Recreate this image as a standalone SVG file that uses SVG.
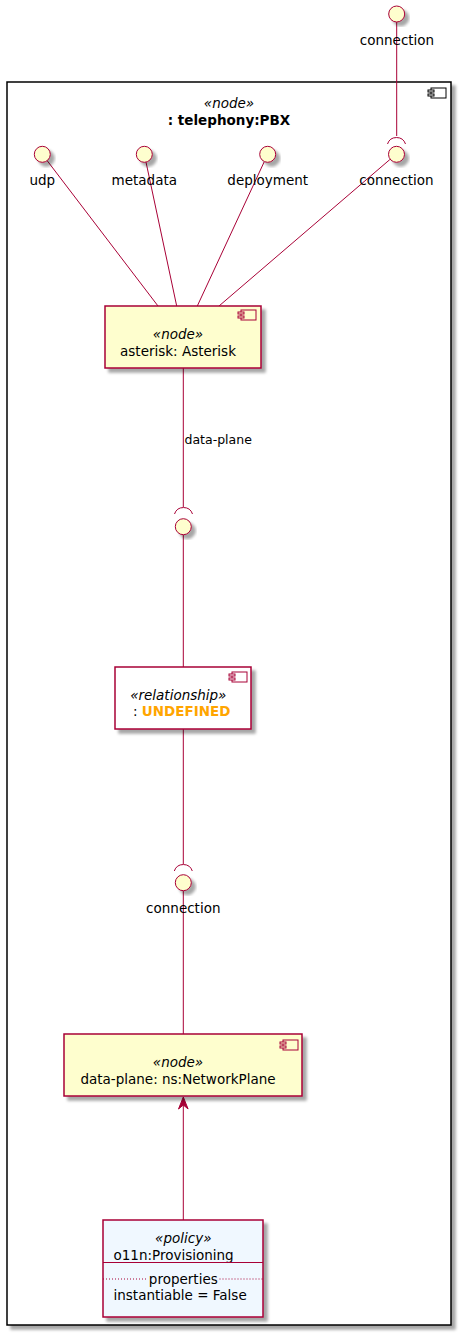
<svg xmlns="http://www.w3.org/2000/svg" xmlns:xlink="http://www.w3.org/1999/xlink" width="463" height="1339" viewBox="0 0 463 1339">
<style>
text{font-family:"DejaVu Sans","Liberation Sans",sans-serif;font-size:13.5px;fill:#000}
.st{font-style:italic}
.b{font-weight:bold}
.el{font-size:12.5px}
.mid{text-anchor:middle}
.box{stroke:#A80036;stroke-width:1.5}
.y{fill:#FEFECE}
.w{fill:#FFFFFF}
.p{fill:#F0F8FF}
.lnk{stroke:#A80036;stroke-width:1;fill:none}
.ic{stroke:#A80036;stroke-width:1;fill:#FEFECE}
</style>
<defs>
<filter id="sh" x="-20%" y="-20%" width="150%" height="150%">
<feGaussianBlur in="SourceAlpha" stdDeviation="1.8"/>
<feOffset dx="4" dy="4" result="o"/>
<feComponentTransfer><feFuncA type="linear" slope="0.35"/></feComponentTransfer>
<feMerge><feMergeNode/><feMergeNode in="SourceGraphic"/></feMerge>
</filter>
<g id="cicon"><rect x="3" y="0" width="15" height="10"/><rect x="0" y="2" width="6" height="2"/><rect x="0" y="6" width="6" height="2"/></g>
<marker id="ah" markerWidth="12" markerHeight="14" refX="5.5" refY="0.5" orient="auto" markerUnits="userSpaceOnUse" viewBox="0 0 12 14"/>
</defs>

<g id="pbx">
<rect x="7" y="82" width="444" height="1243" fill="#FFFFFF" stroke="#000" stroke-width="1.5" filter="url(#sh)"/>
<use xlink:href="#cicon" x="428" y="88" fill="#FFFFFF" stroke="#000" stroke-width="1"/>
<text class="st mid" x="229" y="108">«node»</text>
<text class="b mid" x="229" y="125">: telephony:PBX</text>
</g>

<g id="connectors">
<line class="lnk" x1="396.7" y1="22" x2="396.7" y2="136"/>
<path class="lnk" d="M387.5,144 A9.5,9.5 0 0 1 405.5,144"/>
<line class="lnk" x1="47.2" y1="160.7" x2="158" y2="306"/>
<line class="lnk" x1="146" y1="162.1" x2="176.7" y2="306"/>
<line class="lnk" x1="264.3" y1="161.6" x2="197.3" y2="306"/>
<line class="lnk" x1="389.9" y1="159.5" x2="219" y2="306"/>
<line class="lnk" x1="183.3" y1="368" x2="183.3" y2="507"/>
<path class="lnk" d="M174.5,514 A9.5,9.5 0 0 1 192.5,514"/>
<text class="el" x="184.5" y="444">data-plane</text>
<line class="lnk" x1="183.3" y1="535" x2="183.3" y2="667"/>
<line class="lnk" x1="183.3" y1="729" x2="183.3" y2="864"/>
<path class="lnk" d="M174.3,871 A9.5,9.5 0 0 1 192.3,871"/>
<line class="lnk" x1="183.3" y1="891" x2="183.3" y2="1034"/>
<line class="lnk" x1="183.3" y1="1220" x2="183.3" y2="1100"/>
<path d="M183.3,1097 L178.5,1109 L183.3,1105 L188.1,1109 Z" fill="#A80036" stroke="#A80036" stroke-width="1"/>
</g>

<g id="iface_connection_ext">
<circle cx="396.7" cy="14" r="8" class="ic" filter="url(#sh)"/>
<text class="mid" x="397" y="45">connection</text>
</g>
<g id="iface_udp">
<circle cx="42.3" cy="154.3" r="8" class="ic" filter="url(#sh)"/>
<text class="mid" x="42.3" y="185">udp</text>
</g>
<g id="iface_metadata">
<circle cx="144.3" cy="154.3" r="8" class="ic" filter="url(#sh)"/>
<text class="mid" x="144.3" y="185">metadata</text>
</g>
<g id="iface_deployment">
<circle cx="267.7" cy="154.3" r="8" class="ic" filter="url(#sh)"/>
<text class="mid" x="267.7" y="185">deployment</text>
</g>
<g id="iface_connection">
<circle cx="396.5" cy="154.3" r="8" class="ic" filter="url(#sh)"/>
<text class="mid" x="396.5" y="185">connection</text>
</g>

<g id="asterisk">
<rect x="105" y="306" width="156" height="62" class="box y" filter="url(#sh)"/>
<use xlink:href="#cicon" x="238" y="310" fill="#FEFECE" stroke="#A80036" stroke-width="1"/>
<text class="st mid" x="178" y="339">«node»</text>
<text class="mid" x="178" y="356">asterisk: Asterisk</text>
</g>

<g id="iface_dataplane">
<circle cx="183.3" cy="526.7" r="8" class="ic" filter="url(#sh)"/>
</g>

<g id="relationship">
<rect x="115" y="667" width="136" height="62" class="box w" filter="url(#sh)"/>
<use xlink:href="#cicon" x="229" y="672" fill="#FFFFFF" stroke="#A80036" stroke-width="1"/>
<text class="st mid" x="178.3" y="700">«relationship»</text>
<text x="133" y="716">: <tspan class="b" fill="#FFA500" style="fill:#FFA500">UNDEFINED</tspan></text>
</g>

<g id="iface_connection_np">
<circle cx="183.3" cy="882.7" r="8" class="ic" filter="url(#sh)"/>
<text class="mid" x="183.3" y="913">connection</text>
</g>

<g id="networkplane">
<rect x="64" y="1034" width="238" height="62" class="box y" filter="url(#sh)"/>
<use xlink:href="#cicon" x="280" y="1040" fill="#FEFECE" stroke="#A80036" stroke-width="1"/>
<text class="st mid" x="178" y="1067">«node»</text>
<text class="mid" x="178" y="1084">data-plane: ns:NetworkPlane</text>
</g>

<g id="policy">
<rect x="103" y="1220" width="160" height="97" class="box p" filter="url(#sh)"/>
<text class="st mid" x="183.3" y="1243">«policy»</text>
<text x="113.5" y="1260">o11n:Provisioning</text>
<line x1="103" y1="1262.5" x2="263" y2="1262.5" stroke="#A80036" stroke-width="1"/>
<line x1="103" y1="1279" x2="147" y2="1279" stroke="#A80036" stroke-width="1" stroke-dasharray="1,2"/>
<line x1="219.5" y1="1279" x2="263" y2="1279" stroke="#A80036" stroke-width="1" stroke-dasharray="1,2"/>
<text class="mid" x="183.3" y="1283.5">properties</text>
<text x="113.5" y="1300">instantiable = False</text>
</g>
</svg>
